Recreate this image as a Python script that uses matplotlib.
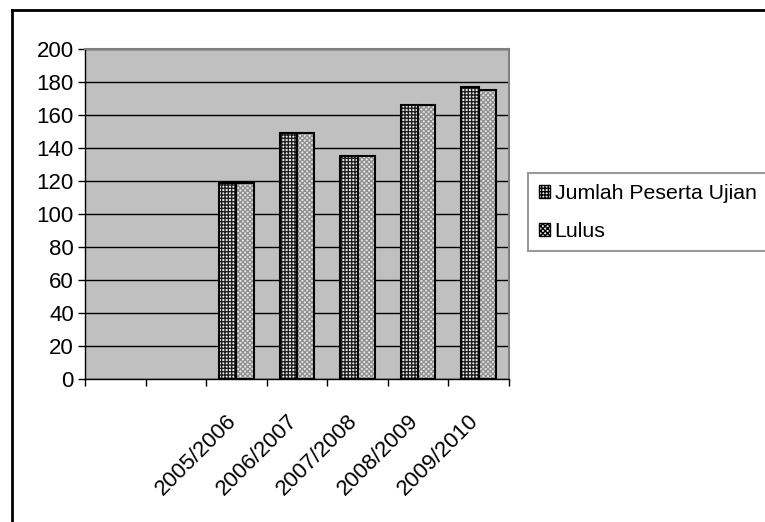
import numpy as np
import matplotlib.pyplot as plt
from matplotlib.patches import Patch
from matplotlib.lines import Line2D
from matplotlib.transforms import ScaledTranslation

# Data (first two category slots are empty in the original chart)
categories = ["", "", "2005/2006", "2006/2007", "2007/2008", "2008/2009", "2009/2010"]
peserta_ujian = [None, None, 119, 149, 135, 166, 177]
lulus = [None, None, 119, 149, 135, 166, 175]
series_names = ["Jumlah Peserta Ujian", "Lulus"]
y_ticks = list(range(0, 201, 20))

plt.rcParams["font.family"] = ["Liberation Sans", "DejaVu Sans"]
plt.rcParams["hatch.linewidth"] = 1.0

# Styles
bar_width = 1 / 3.5
font_size = 16
styles = [
    {"face": "#eeeeee", "hatch_color": "#202020", "hatch": "+++++"},
    {"face": "#e8e8e8", "hatch_color": "#909090", "hatch": "xxxxxxx"},
]

fig = plt.figure(figsize=(7.65, 5.22), dpi=100)
W, H = 765, 522
ax = fig.add_axes([85 / W, 1 - 379 / H, (509 - 85) / W, (379 - 49) / H])
ax.set_facecolor("#c0c0c0")

x = np.arange(len(categories))
series = [peserta_ujian, lulus]
for i, values in enumerate(series):
    vals = np.array([np.nan if v is None else v for v in values], dtype=float)
    mask = ~np.isnan(vals)
    offset = (i - 0.5) * bar_width
    st = styles[i]
    # hatched fill
    ax.bar(x[mask] + offset, vals[mask], width=bar_width, color=st["face"],
           edgecolor=st["hatch_color"], hatch=st["hatch"], linewidth=0, zorder=2)
    # outline
    ax.bar(x[mask] + offset, vals[mask], width=bar_width, fill=False,
           edgecolor="black", linewidth=1.5, zorder=3)

# Axes, limits, grid
ax.set_xlim(-0.5, len(categories) - 0.5)
ax.set_ylim(0, 200)
ax.set_yticks(y_ticks)
ax.yaxis.grid(True, color="black", linewidth=1.0)
ax.set_axisbelow(True)

ax.set_xticks(x)
ax.set_xticklabels(categories, rotation=45, ha="right", va="center",
                   rotation_mode="anchor", fontsize=font_size)
ax.set_xticks(np.arange(len(categories) + 1) - 0.5, minor=True)
ax.tick_params(axis="x", which="major", length=0, pad=28)
ax.tick_params(axis="x", which="minor", length=5, width=1, direction="out")
ax.tick_params(axis="y", length=5, width=1, direction="out",
               labelsize=font_size, pad=3)
shift = ScaledTranslation(-3 / 100, 0, fig.dpi_scale_trans)
for lbl in ax.get_xticklabels():
    lbl.set_transform(lbl.get_transform() + shift)

for side in ["left", "bottom"]:
    ax.spines[side].set_color("black")
    ax.spines[side].set_linewidth(1.0)
for side in ["top", "right"]:
    ax.spines[side].set_color("#808080")
    ax.spines[side].set_linewidth(1.5)

# Legend
handles = [Patch(facecolor=st["face"], edgecolor="black", hatch=st["hatch"], linewidth=1.0)
           for st in styles]
leg = fig.legend(handles, series_names, loc="upper left",
                 bbox_to_anchor=(528 / W, 1 - 173 / H), fontsize=15.3,
                 frameon=True, fancybox=False, edgecolor="#808080",
                 handlelength=0.55, handleheight=0.55, handletextpad=0.2,
                 labelspacing=0.9, borderpad=0.5, borderaxespad=0)
leg.get_frame().set_linewidth(1.5)

# Outer chart border (only left and top visible)
fig.add_artist(Line2D([12 / W, 12 / W], [0, 1 - 10 / H], color="black",
                      linewidth=2, transform=fig.transFigure))
fig.add_artist(Line2D([12 / W, 1], [1 - 10 / H, 1 - 10 / H], color="black",
                      linewidth=2, transform=fig.transFigure))

fig.savefig("out.png", dpi=100)
